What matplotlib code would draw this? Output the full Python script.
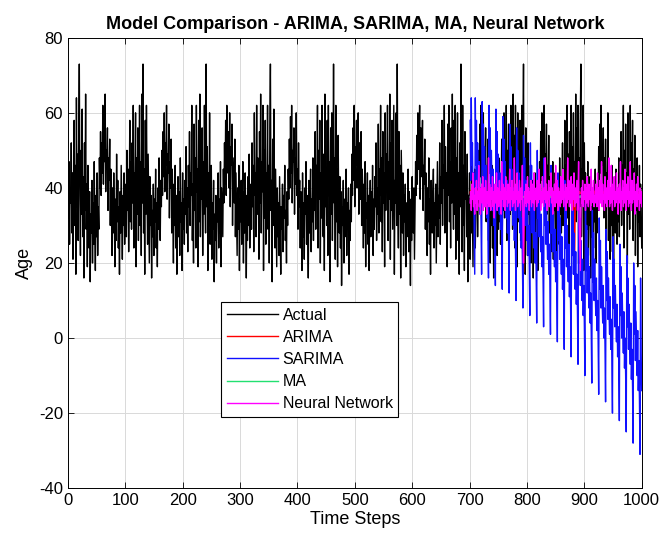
import numpy as np
import matplotlib
matplotlib.use('Agg')
import matplotlib.pyplot as plt

# Actual ages, one value per time step
actual = [
    32, 47, 25, 40, 36, 52, 28, 44, 21, 37, 58, 30, 46, 17, 64, 35, 49, 26, 55, 73,
    38, 22, 50, 33, 61, 27, 43, 16, 52, 34, 65, 29, 41, 19, 46, 31, 24, 39, 15, 33,
    28, 42, 20, 36, 25, 47, 30, 18, 38, 27, 44, 22, 35, 29, 48, 40, 55, 38, 52, 44,
    62, 41, 58, 47, 65, 39, 50, 45, 56, 34, 48, 42, 53, 30, 45, 36, 22, 40, 28, 44,
    33, 19, 37, 26, 49, 31, 42, 24, 35, 17, 39, 28, 46, 33, 21, 38, 30, 44, 25, 36,
    41, 27, 50, 34, 45, 23, 38, 58, 31, 47,
    29, 52, 36, 62, 24, 44, 38, 60, 19, 48, 33, 56, 26, 42, 62, 30, 47, 22, 65, 36,
    73, 28, 45, 17, 58, 33, 62, 40, 25, 49, 35, 20, 43, 30, 38, 16, 34, 27, 41, 22,
    37, 31, 45, 24, 36, 19, 40, 29, 48, 33, 26, 42, 35, 50, 38, 55, 43, 60, 39, 52,
    46, 62, 37, 49, 44, 57, 32, 47, 40, 53, 28, 45, 35, 20, 41, 30, 46, 24, 38, 17,
    34, 43, 27, 39, 22, 48, 31, 36, 18, 44, 29, 37, 25, 42, 33, 51, 28, 40, 23, 46,
    35, 55, 30, 44, 38, 62, 26, 41, 20, 57,
    34, 48, 24, 62, 39, 45, 19, 58, 31, 65, 27, 43, 37, 56, 22, 47, 33, 62, 40, 28,
    73, 35, 51, 18, 44, 30, 60, 25, 39, 46, 21, 36, 29, 42, 15, 33, 26, 38, 20, 35,
    31, 44, 24, 37, 28, 47, 19, 40, 33, 27, 45, 36, 52, 41, 58, 38, 62, 44, 49, 55,
    40, 60, 35, 51, 46, 57, 30, 48, 42, 36, 53, 27, 44, 33, 22, 40, 29, 46, 18, 37,
    31, 42, 25, 35, 47, 20, 39, 28, 44, 33, 16, 38, 26, 43, 30, 49, 24, 36, 41, 29,
    52, 35, 46, 23, 60, 38, 44, 27, 62, 33, 48, 40,
    21, 55, 36, 65, 28, 47, 39, 62, 18, 50, 32, 58, 25, 44, 37, 62, 29, 46, 20, 56,
    73, 34, 42, 15, 53, 30, 61, 38, 24, 45, 33, 19, 40, 27, 36, 22, 43, 31, 17, 35,
    29, 41, 23, 38, 32, 46, 26, 34, 20, 39, 30, 45, 37, 53, 40, 59, 44, 62, 36, 50,
    47, 56, 33, 48, 41, 60, 38, 45, 29, 52, 35, 42, 24, 39, 31, 18, 44, 27, 36, 21,
    40, 33, 47, 25, 38, 30, 16, 42, 28, 35, 45, 23, 37, 31, 48, 26, 43, 34, 55, 29,
    46, 39, 62, 24, 50, 37, 58, 20, 44, 32, 62, 36,
    27, 49, 18, 65, 35, 44, 30, 58, 22, 62, 38, 47, 15, 56, 33, 60, 26, 41, 73, 36,
    48, 21, 62, 31, 45, 19, 54, 37, 28, 43, 24, 39, 14, 35, 30, 42, 20, 37, 27, 33,
    45, 22, 36, 29, 40, 17, 34, 26, 41, 31, 49, 38, 56, 42, 62, 35, 51, 46, 58, 40,
    47, 60, 33, 52, 43, 37, 55, 30, 45, 39, 24, 41, 28, 47, 19, 36, 32, 44, 25, 38,
    18, 34, 42, 27, 39, 31, 46, 22, 37, 29, 43, 35, 52, 26, 40, 33, 57, 28, 45, 38,
    62, 31, 48, 23, 55, 36, 44, 19, 60, 34, 49,
    40, 62, 26, 47, 37, 65, 21, 52, 34, 58, 29, 45, 62, 17, 42, 36, 60, 30, 73, 38,
    24, 55, 33, 46, 16, 50, 39, 28, 44, 22, 38, 31, 41, 19, 36, 27, 33, 45, 23, 39,
    30, 14, 37, 26, 43, 32, 28, 40, 21, 35, 47, 38, 54, 41, 60, 45, 50, 62, 37, 56,
    43, 49, 58, 34, 46, 41, 53, 29, 44, 36, 22, 40, 31, 48, 25, 37, 17, 42, 33, 28,
    39, 45, 24, 36, 30, 41, 20, 34, 47, 27, 38, 32, 52, 25, 43, 36, 58, 30, 46, 40,
    62, 28, 51, 35, 44, 19, 57, 38, 62, 31,
    47, 24, 56, 36, 65, 42, 29, 58, 33, 62, 21, 48, 38, 60, 26, 44, 17, 52, 35, 73,
    40, 23, 62, 30, 46, 18, 55, 37, 42, 27, 49, 15, 38, 32, 44, 21, 36, 28, 47, 33,
    19, 40, 30, 45, 24, 37, 34, 42, 27, 38, 50, 36, 57, 43, 62, 39, 52, 47, 60, 35,
    48, 44, 56, 31, 45, 38, 53, 26, 41, 35, 20, 43, 30, 46, 24, 38, 16, 40, 33, 27,
    44, 36, 22, 39, 29, 48, 31, 42, 25, 37, 53, 28, 45, 34, 60, 32, 47, 39, 62, 26,
    50, 36, 57, 21, 44, 33, 62, 38, 48, 29,
    65, 35, 54, 24, 62, 40, 45, 19, 60, 31, 47, 38, 58, 26, 42, 62, 34, 50, 73, 28,
    43, 17, 56, 36, 45, 22, 52, 33, 39, 27, 46, 20, 37, 31, 42, 16, 35, 29, 44, 24,
    38, 32, 41, 18, 36, 28, 47, 37, 55, 42, 60, 39, 51, 46, 62, 36, 49, 44, 57, 33,
    46, 40, 54, 28, 43, 36, 23, 41, 30, 47, 21, 38, 34, 44, 26, 39, 15, 36, 31, 42,
    25, 48, 33, 40, 28, 37, 52, 30, 45, 36, 58, 27, 46, 38, 62, 32, 49, 22, 55, 40,
    44, 62, 29, 51, 36, 60, 24, 47, 38, 65,
    31, 56, 42, 62, 20, 48, 35, 58, 73, 27, 45, 38, 62, 18, 52, 33, 44, 25, 41, 29,
    47, 22, 37, 30, 43, 16, 35, 27, 40, 33, 24, 39, 31, 45, 20, 36, 28, 42, 34, 51,
    39, 57, 44, 62, 36, 50, 46, 56, 32, 48, 41, 53, 29, 44, 37, 60, 26, 43, 35, 21,
    40, 30, 46, 23, 38, 17, 42, 33, 28, 45, 36, 25, 39, 31, 48, 27, 44, 37, 55, 30,
    46, 40, 62, 24, 50, 35, 57, 38, 44, 20, 60, 33, 47, 29, 62, 36, 52, 41, 58, 26,
    45, 37, 54, 22, 43, 34, 48, 19, 39, 31, 46, 27, 41, 35, 24, 38,
]
actual = actual[:1000]

# ARIMA forecast (last 300 steps)
arima = [
    38.9, 38.2, 39.4, 38.6, 38.1, 39.0, 38.7, 38.3, 39.2, 38.5, 38.8, 38.0, 39.3, 38.6, 38.4, 39.1, 38.7, 38.2, 38.9, 38.5,
    39.2, 38.4, 38.8, 38.1, 39.0, 38.6, 38.3, 39.3, 38.7, 38.5, 38.9, 38.2, 39.1, 38.6, 38.4, 38.8, 38.1, 39.2, 38.5, 38.7,
    38.3, 39.0, 38.6, 38.9, 38.2, 39.1, 38.5, 38.8, 38.4, 39.2, 38.6, 38.1, 38.9, 38.7, 39.0, 38.3, 38.8, 38.5, 39.1, 38.4,
    38.9, 38.6, 38.2, 39.0, 38.7, 38.5, 39.3, 38.4, 38.8, 38.6, 39.1, 38.3, 38.7, 38.9, 38.5, 39.0, 38.2, 38.8, 38.6, 39.2,
    38.4, 38.7, 38.9, 38.3, 39.1, 38.6, 38.8, 38.5, 39.0, 38.4, 38.9, 38.7, 30.5, 17.5, 33.0, 38.8, 38.5, 39.1, 38.3, 38.9,
    38.6, 39.0, 38.4, 38.8, 38.7, 39.2, 38.5, 38.9, 38.3, 39.0, 38.6, 38.8, 38.4, 39.1, 38.7, 38.5, 38.9, 38.2, 39.0, 38.6,
    38.8, 38.4, 39.2, 38.7, 38.5, 38.9, 38.3, 39.1, 38.6, 38.8, 38.5, 39.0, 38.7, 38.4, 38.9, 38.6, 39.1, 38.3, 38.8, 38.7,
    38.5, 39.0, 38.6, 38.9, 38.4, 39.2, 38.7, 38.5, 38.8, 38.6, 39.0, 38.3, 38.9, 38.7, 38.5, 39.1, 38.4, 38.8, 38.6, 39.0,
    38.7, 38.4, 38.9, 38.6, 39.1, 38.5, 38.8, 38.3, 39.0, 38.7, 38.6, 38.9, 38.4, 39.2, 38.5, 38.8, 38.7, 39.0, 38.4, 38.9,
    38.6, 24.5, 18.0, 34.0, 38.8, 38.5, 39.1, 38.7, 38.4, 38.9, 38.6, 39.0, 38.5, 38.8, 38.7, 39.2, 38.4, 38.9, 38.6, 38.8,
    38.5, 39.0, 38.7, 38.4, 38.9, 38.6, 39.1, 38.5, 38.8, 38.7, 39.0, 38.4, 38.9, 38.6, 38.8, 38.5, 39.2, 38.7, 38.4, 38.9,
    38.6, 39.0, 38.5, 38.8, 38.7, 39.1, 38.4, 38.9, 38.6, 38.8, 38.5, 39.0, 38.7, 38.4, 39.2, 38.6, 38.9, 38.5, 38.8, 38.7,
    39.0, 38.4, 38.9, 38.6, 38.8, 38.5, 39.1, 38.7, 38.4, 38.9, 38.6, 39.0, 38.5, 38.8, 38.7, 39.2, 38.4, 38.9, 38.6, 38.8,
    38.5, 39.0, 38.7, 38.4, 38.9, 38.6, 39.1, 38.5, 38.8, 38.7, 39.0, 38.4, 38.9, 38.6, 38.8, 38.5, 39.2, 38.7, 38.4, 38.9,
    38.6, 39.0, 38.5, 38.8, 38.7, 39.1, 38.4, 38.9, 38.6, 38.8, 38.5, 39.0, 38.7, 38.4, 38.9, 38.6, 39.3, 38.5, 38.8, 39.0,
]

# SARIMA forecast (last 300 steps, 12-step season with falling trend)
sarima = [
    58, 42, 64, 46, 52, 38, 44, 30, 17,
    64, 46, 58, 40, 52, 43, 37, 47, 33, 40, 31, 17,
    63, 45, 57, 39, 51, 42, 36, 46, 32, 39, 30, 16,
    62, 44, 56, 38, 50, 41, 34, 45, 30, 38, 28, 14,
    61, 43, 55, 37, 49, 40, 33, 44, 29, 37, 27, 13,
    59, 41, 53, 36, 47, 38, 32, 42, 28, 36, 26, 12,
    57, 39, 51, 34, 45, 36, 30, 40, 26, 34, 24, 10,
    56, 38, 50, 32, 44, 35, 28, 39, 24, 32, 22, 8,
    54, 36, 48, 30, 42, 33, 26, 37, 22, 30, 20, 6,
    52, 34, 46, 28, 40, 31, 24, 35, 20, 28, 18, 4,
    50, 32, 44, 27, 38, 29, 23, 33, 19, 27, 17, 3,
    48, 30, 42, 25, 36, 27, 21, 31, 17, 25, 15, 1,
    46, 28, 40, 23, 34, 25, 19, 29, 15, 23, 13, -1,
    44, 26, 38, 21, 32, 23, 17, 27, 13, 21, 11, -3,
    42, 24, 36, 19, 30, 21, 15, 25, 11, 19, 9, -5,
    40, 22, 34, 17, 28, 19, 13, 23, 9, 17, 7, -7,
    38, 20, 32, 14, 26, 17, 10, 21, 6, 14, 4, -10,
    36, 18, 30, 12, 24, 15, 8, 19, 4, 12, 2, -12,
    34, 15, 28, 10, 21, 12, 6, 16, 2, 10, 0, -15,
    32, 13, 26, 8, 19, 10, 4, 14, 0, 8, -2, -17,
    29, 10, 23, 5, 16, 7, 1, 11, -3, 5, -5, -20,
    27, 8, 21, 3, 14, 5, -1, 9, -5, 3, -7, -22,
    25, 6, 19, 0, 12, 3, -4, 7, -8, 0, -10, -25,
    22, 3, 16, -3, 9, 0, -7, 4, -11, -3, -13, -28,
    20, 1, 14, -6, 7, -2, -10, 2, -14, -6, -16, -31,
    16, -4, -14,
]

# Moving average forecast (last 300 steps)
ma = [
    37.6, 37.9, 37.4, 37.8, 37.5, 38.0, 37.3, 37.7, 37.6, 37.9, 37.4, 37.8, 37.5, 37.7, 37.6, 38.0, 37.4, 37.8, 37.5, 37.9,
    37.6, 37.3, 37.8, 37.5, 37.9, 37.6, 37.4, 37.8, 37.7, 37.5, 37.9, 37.6, 37.4, 37.8, 37.5, 37.7, 37.6, 38.0, 37.4, 37.7,
    37.5, 37.9, 37.6, 37.4, 37.8, 37.5, 37.7, 37.6, 37.9, 37.3, 37.8, 37.6, 37.5, 37.9, 37.4, 37.7, 37.6, 37.8, 37.5, 37.9,
    37.6, 37.4, 37.8, 37.7, 37.5, 37.9, 37.6, 37.3, 37.8, 37.5, 37.7, 37.6, 37.9, 37.4, 37.8, 37.5, 37.7, 37.6, 38.0, 37.4,
    37.7, 37.5, 37.9, 37.6, 37.4, 37.8, 37.6, 37.7, 37.5, 37.9, 37.4, 37.8, 37.6, 37.5, 37.7, 37.9, 37.4, 37.8, 37.6, 37.5,
    37.8, 37.6, 37.4, 37.9, 37.5, 37.7, 37.6, 37.8, 37.3, 37.9, 37.6, 37.5, 37.8, 37.4, 37.7, 37.6, 37.9, 37.5, 37.8, 37.6,
    37.4, 37.7, 37.5, 37.9, 37.6, 37.8, 37.4, 37.7, 37.6, 37.9, 37.5, 37.8, 37.6, 37.4, 37.7, 37.5, 37.9, 37.6, 37.8, 37.5,
    37.6, 37.9, 37.4, 37.8, 37.5, 37.7, 37.6, 38.0, 37.4, 37.7, 37.5, 37.9, 37.6, 37.4, 37.8, 37.5, 37.7, 37.6, 37.9, 37.3,
    37.8, 37.6, 37.5, 37.9, 37.4, 37.7, 37.6, 37.8, 37.5, 37.9, 37.6, 37.4, 37.8, 37.7, 37.5, 37.9, 37.6, 37.3, 37.8, 37.5,
    37.7, 37.6, 37.9, 37.4, 37.8, 37.5, 37.7, 37.6, 38.0, 37.4, 37.7, 37.5, 37.9, 37.6, 37.4, 37.8, 37.6, 37.7, 37.5, 37.9,
    37.4, 37.8, 37.6, 37.5, 37.7, 37.9, 37.4, 37.8, 37.6, 37.5, 37.8, 37.6, 37.4, 37.9, 37.5, 37.7, 37.6, 37.8, 37.3, 37.9,
    37.6, 37.5, 37.8, 37.4, 37.7, 37.6, 37.9, 37.5, 37.8, 37.6, 37.4, 37.7, 37.5, 37.9, 37.6, 37.8, 37.4, 37.7, 37.6, 37.9,
    37.5, 37.8, 37.6, 37.4, 37.7, 37.5, 37.9, 37.6, 37.8, 37.5, 37.6, 37.9, 37.4, 37.8, 37.5, 37.7, 37.6, 38.0, 37.4, 37.7,
    37.5, 37.9, 37.6, 37.4, 37.8, 37.5, 37.7, 37.6, 37.9, 37.3, 37.8, 37.6, 37.5, 37.9, 37.4, 37.7, 37.6, 37.8, 37.5, 37.9,
    37.6, 37.4, 37.8, 37.7, 37.5, 37.9, 37.6, 37.3, 37.8, 37.5, 37.7, 37.6, 37.9, 37.4, 37.8, 37.5, 37.7, 37.6, 38.0, 37.4,
]

# Neural network forecast (last 300 steps)
nn = [
    36, 39, 34, 41, 37, 44, 35, 38, 33, 40, 36, 42, 34, 39, 37, 46, 35, 40, 33, 38,
    41, 36, 43, 34, 38, 40, 35, 42, 37, 33, 39, 36, 48, 35, 41, 38, 34, 40, 37, 43,
    35, 39, 32, 41, 36, 38, 44, 34, 40, 37, 35, 42, 36, 39, 33, 47, 37, 41, 35, 38,
    40, 34, 43, 37, 39, 35, 41, 36, 38, 45, 34, 40, 37, 42, 35, 39, 36, 48, 38, 34,
    41, 37, 44, 35, 39, 36, 42, 38, 34, 40, 37, 46, 30, 20, 33, 39, 36, 41, 35, 38,
    43, 36, 40, 34, 39, 37, 42, 35, 38, 41, 36, 44, 34, 39, 37, 40, 35, 42, 36, 38,
    45, 37, 41, 34, 39, 36, 43, 38, 35, 40, 37, 48, 36, 41, 34, 39, 37, 42, 35, 40,
    38, 44, 36, 40, 33, 39, 37, 41, 35, 46, 38, 36, 42, 34, 40, 37, 39, 35, 43, 36,
    40, 37, 45, 35, 39, 38, 41, 34, 40, 36, 48, 37, 42, 35, 39, 36, 43, 38, 34, 41,
    37, 44, 35, 40, 36, 39, 42, 34, 38, 47, 31, 24, 18, 33, 40, 36, 42, 35, 39, 37,
    41, 34, 40, 36, 43, 38, 35, 41, 37, 39, 34, 45, 36, 40, 37, 42, 35, 38, 36, 41,
    39, 35, 44, 37, 40, 34, 42, 36, 39, 47, 35, 41, 37, 38, 34, 43, 36, 40, 35, 39,
    42, 37, 48, 35, 40, 36, 46, 38, 34, 41, 37, 43, 35, 39, 36, 44, 37, 40, 33, 38,
    41, 36, 47, 34, 39, 37, 42, 35, 40, 36, 45, 38, 34, 41, 37, 43, 35, 39, 36, 47,
    38, 34, 42, 36, 40, 37, 44, 33, 39, 36, 41, 35, 43, 37, 38, 34, 40, 36, 39, 35,
]

names = ['Actual', 'ARIMA', 'SARIMA', 'MA', 'Neural Network']
colors = ['#000000', '#ff0000', '#1010ff', '#22e070', '#ff00ff']

plt.rcParams['font.family'] = ['Liberation Sans', 'DejaVu Sans']
plt.rcParams['axes.unicode_minus'] = False

n = len(actual)
t = np.arange(1, n + 1)

fig = plt.figure(figsize=(6.65, 5.4), dpi=100)
ax = fig.add_axes([0.102, 0.096, 0.863, 0.834])

series = [(t, actual)]
for s in [arima, sarima, ma, nn]:
    series.append((np.arange(n - len(s) + 1, n + 1), s))

for (x, y), name, c in zip(series, names, colors):
    ax.plot(x, y, color=c, lw=1.0, label=name)

ax.set_xlim(0, 1000)
ax.set_ylim(-40, 80)
ax.set_xticks(np.arange(0, 1001, 100))
ax.set_yticks(np.arange(-40, 81, 20))
ax.grid(True, color='#d9d9d9', lw=0.7)
ax.set_axisbelow(True)
ax.tick_params(direction='in', top=True, right=True, labelsize=12, length=4, width=0.6)
for sp in ax.spines.values():
    sp.set_linewidth(0.7)

ax.set_title('Model Comparison - ARIMA, SARIMA, MA, Neural Network', fontsize=13, fontweight='bold', pad=6)
ax.set_xlabel('Time Steps', fontsize=13, labelpad=2)
ax.set_ylabel('Age', fontsize=13, labelpad=4)

leg = ax.legend(loc='lower left', bbox_to_anchor=(0.267, 0.158, 0.308, 0.253), mode='expand',
                fontsize=11.5, fancybox=False, framealpha=1, edgecolor='black',
                handlelength=3.2, handletextpad=0.3, borderpad=0.35, labelspacing=0.45, borderaxespad=0)
leg.get_frame().set_linewidth(0.8)

fig.savefig('out.png', dpi=100)
